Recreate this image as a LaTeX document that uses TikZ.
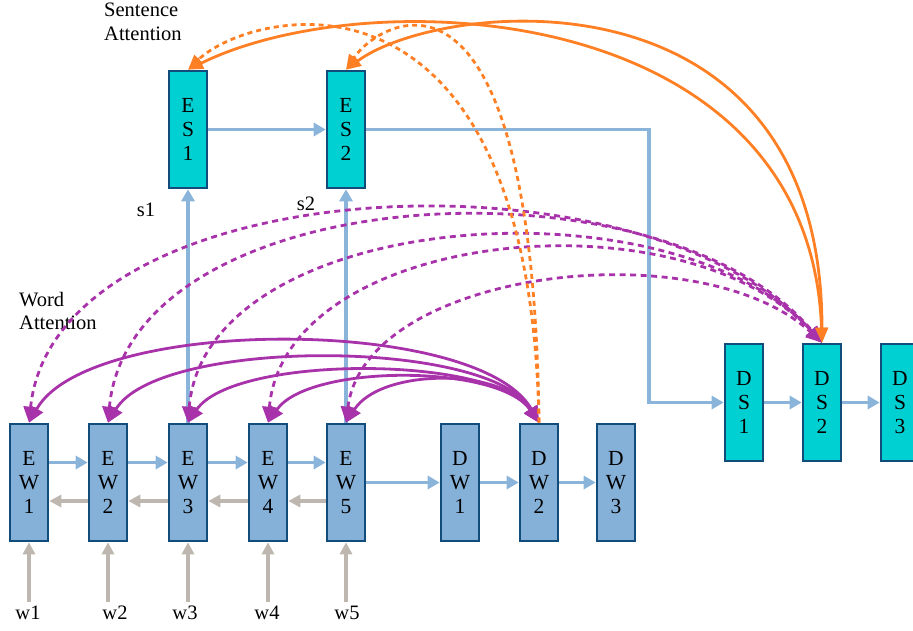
\documentclass[tikz,border=0pt]{standalone}
\usepackage{fontspec}
\setmainfont{Liberation Serif}
\usetikzlibrary{arrows.meta,calc}

\definecolor{boxblue}{RGB}{133,176,216}
\definecolor{boxcyan}{RGB}{0,208,210}
\definecolor{boxedge}{RGB}{18,76,122}
\definecolor{flowblue}{RGB}{138,180,218}
\definecolor{backgray}{RGB}{190,183,175}
\definecolor{attnpurple}{RGB}{168,50,170}
\definecolor{attnorange}{RGB}{255,128,36}

\begin{document}
\begin{tikzpicture}[x=1pt,y=-1pt,
  font=\fontsize{20.5}{23.5}\selectfont,
  cell/.style={draw=boxedge, line width=2.6pt, minimum width=38pt,
    minimum height=117pt, inner sep=0pt, align=center,
    font=\fontsize{21.5}{24}\selectfont},
  wordcell/.style={cell, fill=boxblue},
  sentcell/.style={cell, fill=boxcyan},
  flow/.style={draw=flowblue, line width=3.5pt,
    -{Triangle[length=12pt,width=13pt]}},
  back/.style={draw=backgray, line width=3.5pt,
    -{Triangle[length=12pt,width=12pt]}},
  wattn/.style={draw=attnpurple, line width=2.8pt,
    {Triangle[length=16pt,width=14pt]}-{Triangle[length=16pt,width=14pt]}},
  wattnd/.style={wattn, dash pattern=on 6pt off 4.5pt},
  sattn/.style={draw=attnorange, line width=2.8pt,
    {Triangle[length=15pt,width=12pt]}-{Triangle[length=15pt,width=12pt]}},
  sattnd/.style={draw=attnorange, line width=2.8pt, dash pattern=on 5pt off 4pt,
    -{Triangle[length=15pt,width=12pt]}},
  lbl/.style={inner sep=0pt, align=left}
]
\useasboundingbox (0,0) rectangle (913,630);
\clip (0,0) rectangle (913,630);

% encoder word cells
\node[wordcell] (ew1) at (29,482.5)  {E\\W\\1};
\node[wordcell] (ew2) at (108,482.5) {E\\W\\2};
\node[wordcell] (ew3) at (188,482.5) {E\\W\\3};
\node[wordcell] (ew4) at (268,482.5) {E\\W\\4};
\node[wordcell] (ew5) at (346,482.5) {E\\W\\5};

% decoder word cells
\node[wordcell] (dw1) at (460,482.5) {D\\W\\1};
\node[wordcell] (dw2) at (539,482.5) {D\\W\\2};
\node[wordcell] (dw3) at (616,482.5) {D\\W\\3};

% encoder sentence cells
\node[sentcell] (es1) at (188,129.5) {E\\S\\1};
\node[sentcell] (es2) at (346,129.5) {E\\S\\2};

% decoder sentence cells
\node[sentcell] (ds1) at (744,402.5) {D\\S\\1};
\node[sentcell] (ds2) at (822,402.5) {D\\S\\2};
\node[sentcell] (ds3) at (900,402.5) {D\\S\\3};

% labels
\node[lbl, anchor=north west] (satt) at (104,3) {Sentence\\Attention};
\node[lbl, anchor=north west] (watt) at (19,292) {Word\\Attention};
\node[anchor=base] (s1) at (146,216) {s1};
\node[anchor=base] (s2) at (306,210) {s2};
\node[anchor=base] (w1) at (28,619)  {w1};
\node[anchor=base] (w2) at (115,619) {w2};
\node[anchor=base] (w3) at (185,619) {w3};
\node[anchor=base] (w4) at (267,619) {w4};
\node[anchor=base] (w5) at (347,619) {w5};

% word inputs
\foreach \i in {1,...,5}
  \draw[back] (ew\i.south |- w\i.north) -- (ew\i.south);

% encoder recurrences: forward (upper) and backward (lower)
\foreach \a/\b in {1/2,2/3,3/4,4/5} {
  \draw[flow] ([yshift=20pt]ew\a.east) -- ([yshift=20pt]ew\b.west);
  \draw[back] ([yshift=-18.5pt]ew\b.west) -- ([yshift=-18.5pt]ew\a.east);
}

% decoder word chain
\draw[flow] (ew5.east) -- (dw1.west);
\draw[flow] (dw1.east) -- (dw2.west);
\draw[flow] (dw2.east) -- (dw3.west);

% word encoder to sentence encoder
\draw[flow] (ew3.north) -- (es1.south);
\draw[flow] (ew5.north) -- (es2.south);
\draw[flow] (es1.east) -- (es2.west);

% sentence encoder to sentence decoder
\coordinate (elbow) at (649,402.5);
\draw[flow] (es2.east) -| (elbow) -- (ds1.west);
\draw[flow] (ds1.east) -- (ds2.west);
\draw[flow] (ds2.east) -- (ds3.west);

% word attention from the sentence decoder (dashed)
\draw[wattnd] (ew1.north) .. controls +(26,-253) and +(-182,-203) .. (ds2.north);
\draw[wattnd] (ew2.north) .. controls +(22,-243) and +(-162,-193) .. (ds2.north);
\draw[wattnd] (ew3.north) .. controls +(17,-213) and +(-152,-168) .. (ds2.north);
\draw[wattnd] (ew4.north) .. controls +(17,-193) and +(-142,-153) .. (ds2.north);
\draw[wattnd] (ew5.north) .. controls +(19,-153) and +(-122,-113) .. (ds2.north);

% word attention from the word decoder (solid)
\draw[wattn] (ew1.north) .. controls +(60,-107) and +(-60,-107) .. (dw2.north);
\draw[wattn] (ew2.north) .. controls +(50,-85) and +(-50,-85) .. (dw2.north);
\draw[wattn] (ew3.north) .. controls +(45,-68) and +(-45,-68) .. (dw2.north);
\draw[wattn] (ew4.north) .. controls +(40,-59) and +(-40,-59) .. (dw2.north);
\draw[wattn] (ew5.north) .. controls +(35,-55) and +(-35,-55) .. (dw2.north);

% sentence attention
\draw[sattnd] (dw2.north) .. controls +(-9,-482) and +(62,-60) .. (es1.north);
\draw[sattnd] (dw2.north) .. controls +(-6,-500) and +(32,-48) .. (es2.north);
\draw[sattn] (es1.north) .. controls +(182,-90) and +(-12,-343) .. (ds2.north);
\draw[sattn] (es2.north) .. controls +(94,-70) and +(0,-383) .. (ds2.north);
\end{tikzpicture}
\end{document}
